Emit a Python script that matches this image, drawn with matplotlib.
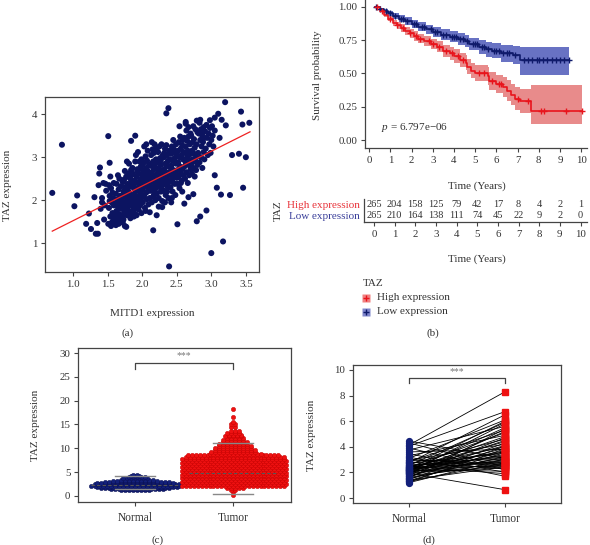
import numpy as np
import matplotlib
matplotlib.use('Agg')
import matplotlib.pyplot as plt
from matplotlib.lines import Line2D

plt.rcParams['font.family'] = ['Liberation Serif', 'DejaVu Serif']
plt.rcParams['mathtext.fontset'] = 'custom'
plt.rcParams['mathtext.rm'] = 'Liberation Serif'
plt.rcParams['mathtext.it'] = 'Liberation Serif:italic'

# ---------------- data: (a) scatter ----------------
mitd1 = [
    1.51,1.52,1.53,1.54,1.55,1.55,1.56,1.57,1.58,1.58,1.59,1.59,1.60,1.52,1.54,1.57,1.56,1.53,
    1.61,1.61,1.62,1.62,1.63,1.63,1.64,1.64,1.65,1.65,1.66,1.66,1.67,1.67,1.68,1.68,1.69,1.69,1.70,1.70,1.62,1.64,1.66,1.68,1.65,
    1.71,1.71,1.72,1.72,1.73,1.73,1.74,1.74,1.75,1.75,1.76,1.76,1.77,1.77,1.78,1.78,1.79,1.79,1.80,1.80,1.72,1.74,1.76,1.78,1.73,1.77,1.79,1.75,
    1.81,1.81,1.82,1.82,1.83,1.83,1.84,1.84,1.85,1.85,1.86,1.86,1.87,1.87,1.88,1.88,1.89,1.89,1.90,1.90,1.81,1.83,1.85,1.87,1.89,1.82,1.84,1.86,1.88,1.90,
    1.91,1.91,1.92,1.92,1.93,1.93,1.94,1.94,1.95,1.95,1.96,1.96,1.97,1.97,1.98,1.98,1.99,1.99,2.00,2.00,1.91,1.93,1.95,1.97,1.99,1.92,1.94,1.96,1.98,2.00,
    2.01,2.01,2.02,2.02,2.03,2.03,2.04,2.04,2.05,2.05,2.06,2.06,2.07,2.07,2.08,2.08,2.09,2.09,2.10,2.10,2.01,2.03,2.05,2.07,2.09,2.02,2.04,2.06,2.08,2.10,
    2.11,2.11,2.12,2.12,2.13,2.13,2.14,2.14,2.15,2.15,2.16,2.16,2.17,2.17,2.18,2.18,2.19,2.19,2.20,2.20,2.11,2.13,2.15,2.17,2.19,2.12,2.14,2.16,2.18,2.20,
    2.21,2.21,2.22,2.22,2.23,2.23,2.24,2.24,2.25,2.25,2.26,2.26,2.27,2.27,2.28,2.28,2.29,2.29,2.30,2.30,2.22,2.24,2.26,2.28,2.21,2.23,2.27,2.29,
    2.31,2.31,2.32,2.32,2.33,2.33,2.34,2.34,2.35,2.35,2.36,2.36,2.37,2.37,2.38,2.38,2.39,2.39,2.40,2.40,2.31,2.33,2.35,2.37,2.39,2.32,2.36,
    2.41,2.41,2.42,2.42,2.43,2.43,2.44,2.44,2.45,2.45,2.46,2.46,2.47,2.47,2.48,2.48,2.49,2.49,2.50,2.50,2.42,2.44,2.46,2.48,2.43,2.47,
    2.51,2.51,2.52,2.52,2.53,2.53,2.54,2.54,2.55,2.55,2.56,2.56,2.57,2.57,2.58,2.58,2.59,2.59,2.60,2.60,2.52,2.54,2.56,2.58,
    2.61,2.61,2.62,2.62,2.63,2.63,2.64,2.64,2.65,2.65,2.66,2.66,2.67,2.67,2.68,2.68,2.69,2.69,2.70,2.70,2.63,2.67,
    2.71,2.71,2.72,2.72,2.73,2.73,2.74,2.74,2.75,2.75,2.76,2.76,2.77,2.77,2.78,2.78,2.79,2.79,2.80,2.80,
    2.81,2.82,2.83,2.84,2.85,2.85,2.86,2.87,2.88,2.88,2.89,2.89,2.90,2.90,2.83,2.87,
    2.91,2.92,2.93,2.94,2.95,2.96,2.97,2.98,2.99,3.00,3.01,3.02,3.03,3.05,
    0.70,0.84,1.02,1.06,1.19,1.23,1.26,1.33,1.36,1.35,1.31,1.37,1.39,1.42,1.45,1.47,1.44,1.40,1.46,1.48,
    1.51,1.53,1.78,1.84,1.90,2.16,2.21,2.39,2.35,2.38,2.51,2.61,2.67,2.74,2.79,2.84,2.93,3.00,3.05,3.08,
    3.10,3.14,3.15,3.17,3.20,3.21,3.27,3.30,3.40,3.43,3.45,3.46,3.50,3.55,2.98,2.84,2.63,3.05,3.12,1.42,
    1.38,2.29,2.42,
]
taz = [
    1.45,1.82,2.10,1.62,1.40,2.28,1.95,1.70,1.52,2.05,1.88,2.40,1.60,2.35,2.55,2.18,1.48,1.98,
    1.55,1.92,1.42,2.15,1.75,2.38,1.60,2.02,1.48,1.85,2.25,1.68,1.95,2.50,1.58,2.10,1.80,2.32,1.65,2.00,1.72,1.52,1.45,1.88,2.58,
    1.62,2.05,1.85,2.42,1.55,2.20,1.95,1.72,2.30,1.40,2.08,1.78,2.55,1.90,1.65,2.15,2.38,1.82,2.00,2.62,1.48,2.48,1.68,1.98,2.12,1.38,2.25,2.68,
    1.75,2.18,1.95,2.52,1.65,2.32,2.05,2.70,1.88,2.40,1.72,2.12,2.60,1.98,2.28,1.80,2.45,2.02,1.68,2.22,2.85,1.58,2.65,2.35,1.92,2.08,2.48,2.75,1.62,2.90,
    2.10,1.85,2.55,2.28,1.95,2.72,2.40,2.05,1.78,2.62,2.20,2.90,1.92,2.48,2.15,2.78,2.32,1.70,2.58,2.08,3.05,2.68,2.25,1.88,2.95,1.65,3.12,2.38,2.00,2.82,
    2.25,1.95,2.65,2.42,2.12,2.88,2.52,1.82,2.35,3.02,2.18,2.75,2.02,2.60,2.30,3.15,2.45,1.90,2.82,2.22,2.70,3.25,1.75,2.92,2.58,2.08,2.38,3.30,2.68,2.48,
    2.35,2.05,2.80,2.55,2.22,3.05,2.65,1.95,2.45,3.18,2.30,2.90,2.12,2.72,2.40,3.30,2.58,2.00,2.95,2.28,1.72,2.85,2.50,3.10,2.18,2.62,3.35,2.08,2.78,2.42,
    2.45,2.15,2.90,2.62,2.32,3.12,2.75,2.05,2.55,3.25,2.40,2.98,2.20,2.82,2.50,3.30,2.68,1.98,3.05,2.35,2.88,1.85,2.60,2.25,3.20,2.70,2.92,2.48,
    2.55,2.22,3.00,2.72,2.40,3.20,2.85,2.12,2.62,3.28,2.48,3.05,2.30,2.90,2.58,2.05,2.78,3.15,2.45,2.95,2.68,1.95,2.80,2.35,2.65,3.10,2.20,
    2.62,2.30,3.08,2.80,2.48,3.25,2.92,2.20,2.70,3.40,2.55,3.12,2.38,2.98,2.65,2.12,2.85,3.30,2.52,3.05,2.75,2.42,3.18,2.88,2.05,2.60,
    2.70,2.38,3.15,2.88,2.55,3.35,3.00,2.28,2.78,3.48,2.62,3.20,2.45,3.05,2.72,2.20,2.95,3.40,2.58,3.12,2.85,3.72,2.40,3.28,
    2.78,3.45,3.10,2.50,3.25,2.88,3.62,2.65,3.00,3.38,2.40,3.15,2.82,3.70,3.05,2.58,3.30,2.92,3.55,2.72,3.78,3.48,
    2.85,3.50,3.15,2.62,3.35,2.95,3.72,2.75,3.08,3.42,2.55,3.22,2.90,3.65,3.00,2.70,3.30,3.85,3.58,2.82,
    3.10,3.55,2.88,3.40,3.65,3.00,3.25,2.75,3.58,3.35,3.70,3.12,3.45,2.95,3.80,3.50,
    3.60,3.20,3.75,3.45,3.05,3.55,3.30,3.68,3.10,3.40,3.72,3.50,3.25,3.62,
    2.17,3.29,1.86,2.11,1.45,1.69,1.33,1.22,1.22,1.47,2.07,2.35,2.76,2.05,1.55,2.38,2.40,1.80,1.88,2.22,
    3.49,2.87,2.90,3.38,3.50,1.30,1.65,0.46,4.02,4.14,1.44,1.92,2.07,2.14,1.51,1.62,1.76,0.77,2.58,2.29,
    4.01,2.13,3.87,1.04,4.28,3.74,2.12,3.05,3.08,4.06,3.76,2.29,3.00,3.80,3.86,3.87,3.82,3.92,3.45,1.95,
    2.62,1.84,1.95,
]
fit_x = [0.70, 3.56]
fit_y = [1.28, 3.59]

# ---------------- data: (b) survival ----------------
red_t  = [0.27,0.5,0.7,0.9,1.1,1.3,1.5,1.7,1.9,2.1,2.3,2.6,2.9,3.2,3.5,3.8,4.0,4.3,4.55,4.6,4.8,5.0,5.6,5.65,6.0,6.3,6.5,6.7,6.9,7.1,7.65,10.05]
red_s  = [1.00,0.97,0.94,0.91,0.88,0.86,0.84,0.82,0.80,0.78,0.76,0.74,0.72,0.70,0.67,0.65,0.63,0.60,0.58,0.55,0.52,0.50,0.48,0.44,0.42,0.40,0.37,0.34,0.31,0.29,0.22,0.22]
red_lo = [1.00,0.96,0.925,0.89,0.858,0.835,0.813,0.79,0.768,0.746,0.724,0.702,0.68,0.658,0.625,0.603,0.58,0.548,0.526,0.494,0.462,0.44,0.415,0.372,0.35,0.325,0.292,0.26,0.225,0.20,0.12,0.12]
red_hi = [1.00,0.98,0.955,0.93,0.902,0.885,0.867,0.85,0.832,0.814,0.796,0.778,0.76,0.742,0.715,0.697,0.68,0.652,0.634,0.606,0.578,0.56,0.545,0.508,0.49,0.475,0.448,0.42,0.395,0.38,0.41,0.41]
red_cens = [0.35,0.6,1.0,1.3,1.6,1.9,2.2,2.4,2.8,3.0,3.3,3.6,3.9,4.2,4.4,5.2,5.4,5.8,6.1,6.2,7.0,7.5,8.1,8.25,9.3,10.05]

blue_t  = [0.27,0.5,0.7,0.9,1.1,1.4,1.7,2.0,2.3,2.7,3.0,3.4,3.8,4.2,4.5,4.7,5.2,5.5,5.8,6.2,6.8,7.1,9.42]
blue_s  = [1.0,0.98,0.965,0.95,0.93,0.91,0.89,0.87,0.85,0.83,0.81,0.79,0.775,0.76,0.74,0.72,0.70,0.68,0.67,0.65,0.635,0.60,0.60]
blue_lo = [1.0,0.97,0.95,0.93,0.905,0.882,0.86,0.838,0.816,0.794,0.772,0.75,0.733,0.716,0.694,0.672,0.648,0.625,0.612,0.588,0.568,0.49,0.49]
blue_hi = [1.0,0.99,0.98,0.97,0.955,0.938,0.92,0.902,0.884,0.866,0.848,0.83,0.817,0.804,0.786,0.768,0.752,0.735,0.728,0.712,0.702,0.70,0.70]
blue_cens = [0.3,0.5,0.8,1.0,1.2,1.5,1.6,1.8,2.1,2.2,2.5,2.6,2.9,3.1,3.2,3.5,3.6,3.9,4.0,4.1,4.3,4.4,4.6,4.9,
             5.0,5.1,5.3,5.4,5.6,5.9,6.0,6.1,6.3,6.5,6.6,6.9,7.3,7.5,7.7,7.9,8.0,8.2,8.4,8.6,8.8,9.0,9.2,9.42]

risk_years = [0,1,2,3,4,5,6,7,8,9,10]
risk_high = [265,204,158,125,79,42,17,8,4,2,1]
risk_low  = [265,210,164,138,111,74,45,22,9,2,0]
p_text = '6.797e\u221206'

# ---------------- data: (c) swarm (value levels and counts) ----------------
normal_levels = [1.2,1.45,1.7,1.95,2.2,2.45,2.7,2.95,3.2,3.45,3.7,3.95,4.2,4.45]
normal_counts = [8,14,18,21,23,22,20,17,12,9,7,5,3,2]
tumor_levels = [0.3,0.8,1.3,1.7,2.1,2.5,2.9,3.3,3.7,4.1,4.5,4.9,5.3,5.7,6.1,6.5,6.9,7.3,7.7,8.1,8.5,
                8.9,9.3,9.7,10.1,10.5,10.9,11.3,11.7,12.1,12.5,12.9,13.3,13.7,14.4,15.0,15.6,16.5,18.3]
tumor_counts = [1,1,2,5,27,27,27,27,27,27,27,27,27,27,27,27,27,27,27,26,24,
                14,12,11,10,9,8,7,6,5,5,4,4,3,2,2,1,1,1]
normal_whisk = [1.4, 4.2]
normal_center = 2.3
tumor_whisk = [0.4, 11.1]
tumor_center = 4.8

# ---------------- data: (d) paired ----------------
normal_p = [4.14,1.93,4.45,4.30,4.05,3.90,3.75,3.60,3.45,3.30,3.20,3.10,3.00,2.95,2.90,2.85,2.80,2.75,2.70,2.65,
            2.60,2.55,2.50,2.48,2.45,2.42,2.40,2.38,2.35,2.32,2.30,2.28,2.25,2.22,2.20,2.18,2.15,2.12,2.10,2.08,
            2.05,2.02,2.00,1.98,1.95,1.90,1.85,1.80,1.75,1.70,1.65,1.60,1.55,1.50,1.45,1.40,1.35,1.30,1.25,1.20]
tumor_p = [8.30,0.65,3.10,2.40,6.75,2.20,5.60,3.80,2.00,4.90,1.70,6.10,2.60,4.20,3.00,5.30,2.30,6.50,3.50,4.60,
           2.80,5.90,3.20,1.90,4.00,2.70,5.10,3.60,2.50,4.40,3.30,6.00,2.90,4.80,3.70,2.10,5.50,3.40,4.10,2.60,
           5.80,3.00,4.50,2.35,3.90,5.20,3.15,4.70,2.55,3.65,4.30,2.85,5.40,3.25,4.05,2.45,3.55,2.75,3.85,3.05]
groups = ['Normal', 'Tumor']

# ---------------- figure ----------------
W, H = 590, 545
fig = plt.figure(figsize=(W / 100, H / 100), dpi=100)
TXT = '#333333'
SP = '#444444'
NAVY = '#0c1461'
RED = '#ee1111'

def axes_px(l, t, r, b):
    return fig.add_axes([l / W, 1 - b / H, (r - l) / W, (b - t) / H])

def ftext(x, y, s, **kw):
    kw.setdefault('color', TXT)
    kw.setdefault('ha', 'center')
    kw.setdefault('va', 'center')
    return fig.text(x / W, 1 - y / H, s, **kw)

def style(ax, fs=7.5):
    for s in ax.spines.values():
        s.set_color(SP)
        s.set_linewidth(0.9)
    ax.tick_params(direction='out', length=3, width=0.8, color=SP,
                   labelsize=fs, labelcolor=TXT, pad=2.5)

# ---- (a) ----
ax = axes_px(45, 97, 259, 272)
ax.scatter(mitd1, taz, s=19, color=NAVY, edgecolors='none', zorder=2)
ax.plot(fit_x, fit_y, color='#ee2222', lw=0.9, zorder=3)
ax.set_xlim(0.595, 3.69)
ax.set_ylim(0.33, 4.40)
ax.set_xticks([1.0, 1.5, 2.0, 2.5, 3.0, 3.5])
ax.set_xticklabels(['1.0', '1.5', '2.0', '2.5', '3.0', '3.5'])
ax.set_yticks([1, 2, 3, 4])
style(ax, 7.8)
ftext(152, 313, 'MITD1 expression', fontsize=8)
ftext(8, 185, 'TAZ expression', fontsize=8, rotation=90)
ftext(128, 333, '(a)', fontsize=8)

# ---- (b) survival ----
axb = axes_px(365, 0, 586.5, 148)
rb = '#2837aa'
rr = '#dc4d4d'
axb.fill_between(blue_t, blue_lo, blue_hi, step='post', color=rb, alpha=0.7, lw=0, zorder=1)
axb.fill_between(red_t, red_lo, red_hi, step='post', color=rr, alpha=0.65, lw=0, zorder=1)
axb.step(blue_t, blue_s, where='post', color='#0f1a6b', lw=1.2, zorder=3)
axb.step(red_t, red_s, where='post', color='#e8141c', lw=1.2, zorder=3)
bt = np.array(blue_t); bs = np.array(blue_s)
rt = np.array(red_t); rs = np.array(red_s)
bc = np.array(blue_cens); rc = np.array(red_cens)
axb.plot(bc, bs[np.searchsorted(bt, bc, side='right') - 1], '+', color='#0f1a6b', ms=4, mew=1.0, zorder=4)
axb.plot(rc, rs[np.searchsorted(rt, rc, side='right') - 1], '+', color='#e8141c', ms=4, mew=1.0, zorder=4)
axb.set_xlim(-0.2, 10.25)
axb.set_ylim(-0.06, 1.05)
axb.set_xticks(range(0, 11))
axb.set_yticks([0, 0.25, 0.5, 0.75, 1.0])
axb.set_yticklabels(['0.00', '0.25', '0.50', '0.75', '1.00'])
axb.spines['top'].set_visible(False)
axb.spines['right'].set_visible(False)
style(axb, 7.8)
axb.text(0.55, 0.09, r'$\it{p}$ = ' + p_text, fontsize=8, color=TXT, ha='left', va='center')
ftext(317, 75, 'Survival probability', fontsize=8, rotation=90)
ftext(477, 186, 'Time (Years)', fontsize=8)

# risk table
axr = axes_px(364, 199, 586.5, 222)
axr.set_xlim(-0.485, 10.29)
axr.set_ylim(0, 1)
for yr, h, l in zip(risk_years, risk_high, risk_low):
    axr.text(yr, 0.74, str(h), ha='center', va='center', fontsize=7.5, color=TXT)
    axr.text(yr, 0.28, str(l), ha='center', va='center', fontsize=7.5, color=TXT)
axr.set_xticks(risk_years)
axr.set_yticks([0.74, 0.28])
axr.set_yticklabels(['High expression', 'Low expression'])
axr.spines['top'].set_visible(False)
axr.spines['right'].set_visible(False)
style(axr, 7.8)
axr.tick_params(axis='y', length=0, pad=3, labelsize=8)
lab = axr.get_yticklabels()
lab[0].set_color('#e8333a')
lab[1].set_color('#3a3f9a')
ftext(278, 211, 'TAZ', fontsize=8, rotation=90)
ftext(477, 259, 'Time (Years)', fontsize=8)

# legend
ftext(363, 284, 'TAZ', fontsize=8, ha='left')
for yy, fc, lc, txt in [(298, '#f08080', '#e8141c', 'High expression'),
                        (312, '#7f86cc', '#0f1a6b', 'Low expression')]:
    fig.add_artist(Line2D([366 / W], [1 - yy / H], marker='s', ms=5.5, color=fc, mec='none',
                          transform=fig.transFigure))
    fig.add_artist(Line2D([366 / W], [1 - yy / H], marker='+', ms=4.5, mew=1.0, color=lc,
                          transform=fig.transFigure))
    ftext(377, yy, txt, fontsize=8, ha='left')
ftext(433, 333, '(b)', fontsize=8)

# ---- (c) swarm ----
axc = axes_px(78, 348, 291, 502)

def rows(levels, counts, center, spacing):
    xs, ys = [], []
    for i, (lv, n) in enumerate(zip(levels, counts)):
        off = (np.arange(n) - (n - 1) / 2.0) * spacing
        if i % 2 == 1 and n > 2:
            off = off + spacing / 2.0
        xs.extend(center + off)
        ys.extend([lv] * n)
    return np.array(xs), np.array(ys)

nx, ny = rows(normal_levels, normal_counts, 0, 0.041)
tx, ty = rows(tumor_levels, tumor_counts, 1, 0.040)
axc.scatter(nx, ny, s=10, color='#13207a', edgecolors='#0a1050', linewidths=0.3, zorder=2)
axc.scatter(tx, ty, s=10, color=RED, edgecolors='#c00000', linewidths=0.3, zorder=2)
for xc, wk, cen in [(0, normal_whisk, normal_center), (1, tumor_whisk, tumor_center)]:
    for v in wk:
        axc.plot([xc - 0.2, xc + 0.2], [v, v], color='#888888', lw=1.0, zorder=3)
    axc.plot([xc - 0.45, xc + 0.45], [cen, cen], color='#555555', lw=0.8, ls=(0, (3, 2)), zorder=3)
axc.plot([0, 0, 1, 1], [26.6, 28.0, 28.0, 26.6], color='#444444', lw=0.9)
axc.text(0.5, 29.4, '***', ha='center', va='center', fontsize=7, color='#777777')
axc.set_xlim(-0.58, 1.59)
axc.set_ylim(-1.26, 31.05)
axc.set_xticks([0, 1])
axc.set_xticklabels(groups)
axc.set_yticks([0, 5, 10, 15, 20, 25, 30])
style(axc, 7.8)
axc.tick_params(axis='x', labelsize=8.3, pad=4)
ftext(36, 425, 'TAZ expression', fontsize=8, rotation=90)
ftext(158, 540, '(c)', fontsize=8)

# ---- (d) paired ----
axd = axes_px(353, 365, 561, 503)
for a, b in zip(normal_p, tumor_p):
    axd.plot([0, 1], [a, b], color='black', lw=0.6, zorder=2)
axd.plot([0] * len(normal_p), normal_p, 'o', ms=4.2, color='#13207a', mec='#13207a', zorder=3)
axd.plot([1] * len(tumor_p), tumor_p, 's', ms=4.2, color=RED, mec=RED, zorder=3)
axd.plot([0, 0, 1, 1], [9.0, 9.4, 9.4, 9.0], color='#444444', lw=0.9)
axd.text(0.5, 9.85, '***', ha='center', va='center', fontsize=7, color='#777777')
axd.set_xlim(-0.583, 1.583)
axd.set_ylim(-0.39, 10.39)
axd.set_xticks([0, 1])
axd.set_xticklabels(groups)
axd.set_yticks([0, 2, 4, 6, 8, 10])
style(axd, 7.8)
axd.tick_params(axis='x', labelsize=8.3, pad=4)
ftext(312, 435, 'TAZ expression', fontsize=8, rotation=90)
ftext(429, 540, '(d)', fontsize=8)

fig.savefig('out.png', dpi=100)
